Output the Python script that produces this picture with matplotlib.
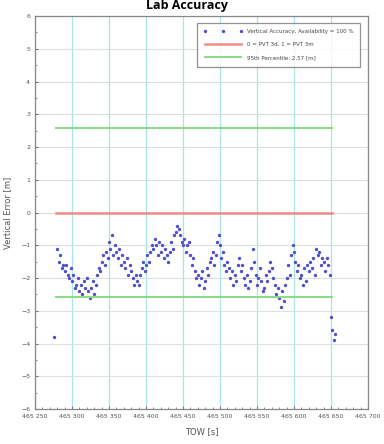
import numpy as np
import matplotlib
matplotlib.use("Agg")
import matplotlib.pyplot as plt
from matplotlib.ticker import MultipleLocator, FuncFormatter

# ---- data ----
tow_start = 465280
tow_step = 2
vert_err = [
    -1.1, -1.5, -1.3, -1.7, -1.6,
    -1.8, -1.6, -1.9, -2.0, -1.7,
    -2.1, -1.9, -2.3, -2.2, -2.0,
    -2.4, -2.2, -2.5, -2.1, -2.3,
    -2.0, -2.4, -2.6, -2.3, -2.1,
    -2.5, -2.2, -1.9, -1.7, -1.8,
    -1.5, -1.3, -1.6, -1.2, -1.4,
    -0.9, -1.1, -0.7, -1.3, -1.0,
    -1.2, -1.4, -1.1, -1.6, -1.3,
    -1.5, -1.7, -1.4, -1.9, -1.6,
    -1.8, -2.0, -2.2, -1.9, -2.1,
    -2.2, -1.9, -1.7, -1.5, -1.8,
    -1.6, -1.3, -1.5, -1.2, -1.0,
    -1.1, -0.8, -1.0, -1.3, -0.9,
    -1.2, -1.0, -1.4, -1.1, -1.3,
    -1.5, -1.2, -0.9, -1.1, -0.7,
    -0.6, -0.4, -0.5, -0.7, -0.9,
    -1.0, -0.8, -1.2, -1.0, -0.9,
    -1.3, -1.6, -1.4, -1.8, -2.0,
    -1.9, -2.2, -2.0, -1.8, -2.3,
    -2.1, -1.7, -1.9, -1.5, -1.4,
    -1.2, -1.6, -1.3, -0.9, -0.7,
    -1.0, -1.4, -1.2, -1.6, -1.8,
    -1.5, -1.7, -2.0, -1.8, -2.2,
    -1.9, -2.1, -1.6, -1.4, -1.8,
    -1.6, -2.0, -2.2, -1.9, -2.3,
    -2.1, -1.7, -1.1, -1.5, -1.9,
    -2.2, -2.0, -1.7, -2.1, -2.4,
    -2.3, -1.9, -2.1, -1.8, -1.5,
    -1.7, -2.0, -2.2, -2.5, -2.3,
    -2.6, -2.9, -2.4, -2.7, -2.2,
    -2.0, -1.6, -1.9, -1.3, -1.0,
    -1.2, -1.5, -1.8, -1.6, -2.0,
    -1.9, -2.2, -1.7, -2.1, -1.6,
    -1.8, -1.5, -1.7, -1.4, -1.9,
    -1.1, -1.3, -1.2, -1.6, -1.4,
    -1.5, -1.8, -1.4, -1.6, -1.9,
    -3.2, -3.6, -3.9, -3.7,
]
outlier_tow = [465276]
outlier_err = [-3.8]
pvt_level = 0.0
p95 = 2.57
line_span = [465278, 465652]

tow = [tow_start + tow_step * i for i in range(len(vert_err))]
tow_all = outlier_tow + tow
err_all = outlier_err + vert_err

fig = plt.figure(figsize=(3.84, 4.44), dpi=100)
ax = fig.add_axes([35/384, 1-409/444, 333/384, 393/444])

ax.plot(tow_all, err_all, linestyle='none', marker='.', markersize=2.8,
        color='#5050cc', label='Vertical Accuracy, Availability = 100 %')
ax.plot(line_span, [pvt_level, pvt_level], color='#f08a8a', lw=1.8,
        label='0 = PVT 3d, 1 = PVT 3m')
ax.plot(line_span, [p95, p95], color='#86dc86', lw=1.4,
        label='95th Percentile: 2.57 [m]')
ax.plot(line_span, [-p95, -p95], color='#86dc86', lw=1.4)

ax.set_xlim(465250, 465700)
ax.set_ylim(-6, 6)
ax.xaxis.set_major_locator(MultipleLocator(50))
ax.xaxis.set_minor_locator(MultipleLocator(10))
ax.yaxis.set_major_locator(MultipleLocator(1))
ax.yaxis.set_minor_locator(MultipleLocator(0.5))
ax.xaxis.set_major_formatter(FuncFormatter(lambda v, p: f"{int(v)//1000} {int(v)%1000:03d}"))

ax.grid(axis='x', which='major', color='#a8e6e6', lw=0.9)
ax.grid(axis='y', which='major', color='#dedede', lw=0.8)
ax.set_axisbelow(True)

for s in ax.spines.values():
    s.set_color('#888888')
    s.set_linewidth(0.9)
ax.tick_params(which='both', direction='in', colors='#777777', labelsize=4.5,
               labelcolor='#555555', length=2.5)
ax.tick_params(which='minor', length=1.5)

ax.set_xlabel('TOW [s]', fontsize=6, color='#555555', labelpad=6)
ax.set_ylabel('Vertical Error [m]', fontsize=6, color='#555555', labelpad=6)

leg = ax.legend(loc='upper right', fontsize=4, numpoints=3, frameon=True,
                fancybox=False, edgecolor='#777777', borderpad=1.2,
                handlelength=7, labelspacing=1.4, bbox_to_anchor=(0.985, 0.99))
leg.get_frame().set_linewidth(0.9)
for t in leg.get_texts():
    t.set_color('#444444')

fig.text(0.487, 1-6/444, 'Lab Accuracy', ha='center', va='center',
         fontsize=9, fontweight='bold', family='Open Sans')

fig.savefig('out.png', dpi=100)
